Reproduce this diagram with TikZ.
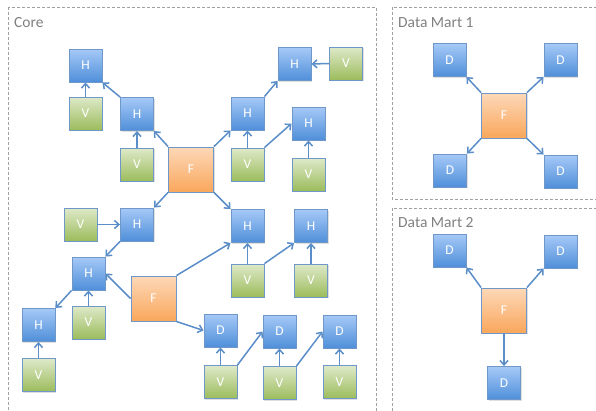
\documentclass[tikz,border=0pt]{standalone}
\usepackage{fontspec}
\setmainfont{Carlito}
\usetikzlibrary{arrows.meta,shadows}
\definecolor{bordc}{HTML}{6F98C8}
\definecolor{arrc}{HTML}{5B8DC8}
\definecolor{btop}{HTML}{A6C9F7}
\definecolor{bbot}{HTML}{4F8FD9}
\definecolor{gtop}{HTML}{DEE9C9}
\definecolor{gbot}{HTML}{9CBC5C}
\definecolor{otop}{HTML}{FDD8B8}
\definecolor{obot}{HTML}{F9A75C}
\definecolor{framec}{HTML}{A0A0A0}
\definecolor{titlec}{HTML}{808080}
\tikzset{
  box/.style={draw=bordc, line width=0.9pt, minimum size=33pt, inner sep=0pt,
    text=white, font=\fontsize{13.5}{14}\selectfont,
    drop shadow={opacity=0.25, shadow xshift=1pt, shadow yshift=-1.2pt}},
  hbox/.style={box, top color=btop, bottom color=bbot},
  vbox/.style={box, top color=gtop, bottom color=gbot},
  fbox/.style={box, minimum size=45pt, top color=otop, bottom color=obot},
  conn/.style={draw=arrc, line width=1.5pt, -{Straight Barb[length=4.5pt,width=8pt,line width=1.5pt]}},
  frame/.style={draw=framec, line width=0.9pt, dash pattern=on 3pt off 2pt},
  ttl/.style={anchor=base west, inner sep=0pt, text=titlec, font=\fontsize{15.5}{16}\selectfont},
}
\begin{document}
\begin{tikzpicture}[x=1pt,y=-1pt]
\useasboundingbox (0,0) rectangle (596,410);
\clip (0,0) rectangle (596,410);
% frames
\draw[frame] (8,7) rectangle (376,425);
\draw[frame] (392,7) rectangle (615,199);
\draw[frame] (392,208) rectangle (615,425);
\node[ttl] (tcore) at (14,27) {Core};
\node[ttl] (tdm1) at (398,27) {Data Mart 1};
\node[ttl] (tdm2) at (398,227) {Data Mart 2};
% core upper
\node[hbox] (H1) at (85.5,65.5) {H};
\node[vbox] (V1) at (85.5,113.5) {V};
\node[hbox] (H2) at (137,114) {H};
\node[vbox] (V2) at (137,164.5) {V};
\node[fbox] (F1) at (191,169.5) {F};
\node[hbox] (H3) at (247.5,113.5) {H};
\node[vbox] (V3) at (247.5,164.5) {V};
\node[hbox] (H4) at (294.5,64) {H};
\node[vbox] (V4) at (346,63.5) {V};
\node[hbox] (H5) at (308.5,123.5) {H};
\node[vbox] (V5) at (308.5,174.5) {V};
% core lower
\node[vbox] (V6) at (80.5,224.5) {V};
\node[hbox] (H6) at (137,224.5) {H};
\node[hbox] (H7) at (88.5,273.5) {H};
\node[vbox] (V7) at (88.5,322.5) {V};
\node[fbox] (F2) at (153.5,298.5) {F};
\node[hbox] (H8) at (38.5,325) {H};
\node[vbox] (V8) at (38.5,375) {V};
\node[hbox] (H9) at (247.5,226) {H};
\node[vbox] (V9) at (247.5,280.5) {V};
\node[hbox] (H10) at (311,226) {H};
\node[vbox] (V10) at (311,280.5) {V};
\node[hbox] (D1) at (220.5,330.5) {D};
\node[vbox] (V11) at (220.5,382) {V};
\node[hbox] (D2) at (279.5,331.5) {D};
\node[vbox] (V12) at (279.5,383) {V};
\node[hbox] (D3) at (339.5,331.5) {D};
\node[vbox] (V13) at (339.5,382) {V};
% data mart 1
\node[hbox] (A1) at (449.5,60) {D};
\node[hbox] (A2) at (560.5,60) {D};
\node[fbox] (FA) at (504,115.5) {F};
\node[hbox] (A3) at (450,170.5) {D};
\node[hbox] (A4) at (560.5,171.5) {D};
% data mart 2
\node[hbox] (B1) at (449.5,250.5) {D};
\node[hbox] (B2) at (560.5,251.5) {D};
\node[fbox] (FB) at (504,310.5) {F};
\node[hbox] (B3) at (504,383) {D};
% connectors core
\draw[conn] (V1.north) -- (H1.south);
\draw[conn] (H2.north west) -- (H1.south east);
\draw[conn] (V2.north) -- (H2.south);
\draw[conn] (F1.north west) -- (H2.south east);
\draw[conn] (F1.north east) -- (H3.south west);
\draw[conn] (H3.north east) -- (H4.south west);
\draw[conn] (V4.west) -- (H4.east);
\draw[conn] (V3.north) -- (H3.south);
\draw[conn] (V3.north east) -- (H5.west);
\draw[conn] (V5.north) -- (H5.south);
\draw[conn] (F1.south west) -- (H6.north east);
\draw[conn] (V6.east) -- (H6.west);
\draw[conn] (H6.south west) -- (H7.north east);
\draw[conn] (F2.west) -- (H7.east);
\draw[conn] (V7.north) -- (H7.south);
\draw[conn] (H7.south west) -- (H8.north east);
\draw[conn] (V8.north) -- (H8.south);
\draw[conn] (F2.north east) -- (H9.south west);
\draw[conn] (F1.south east) -- (H9.north west);
\draw[conn] (V9.north) -- (H9.south);
\draw[conn] (V9.north east) -- (H10.south west);
\draw[conn] (V10.north) -- (H10.south);
\draw[conn] (F2.south east) -- (D1.west);
\draw[conn] (V11.north) -- (D1.south);
\draw[conn] (V11.north east) -- (D2.west);
\draw[conn] (V12.north) -- (D2.south);
\draw[conn] (V12.north east) -- (D3.west);
\draw[conn] (V13.north) -- (D3.south);
% connectors marts
\draw[conn] (FA.north west) -- (A1.south east);
\draw[conn] (FA.north east) -- (A2.south west);
\draw[conn] (FA.south west) -- (A3.north east);
\draw[conn] (FA.south east) -- (A4.north west);
\draw[conn] (FB.north west) -- (B1.south east);
\draw[conn] (FB.north east) -- (B2.south west);
\draw[conn] (FB.south) -- (B3.north);
\end{tikzpicture}
\end{document}
